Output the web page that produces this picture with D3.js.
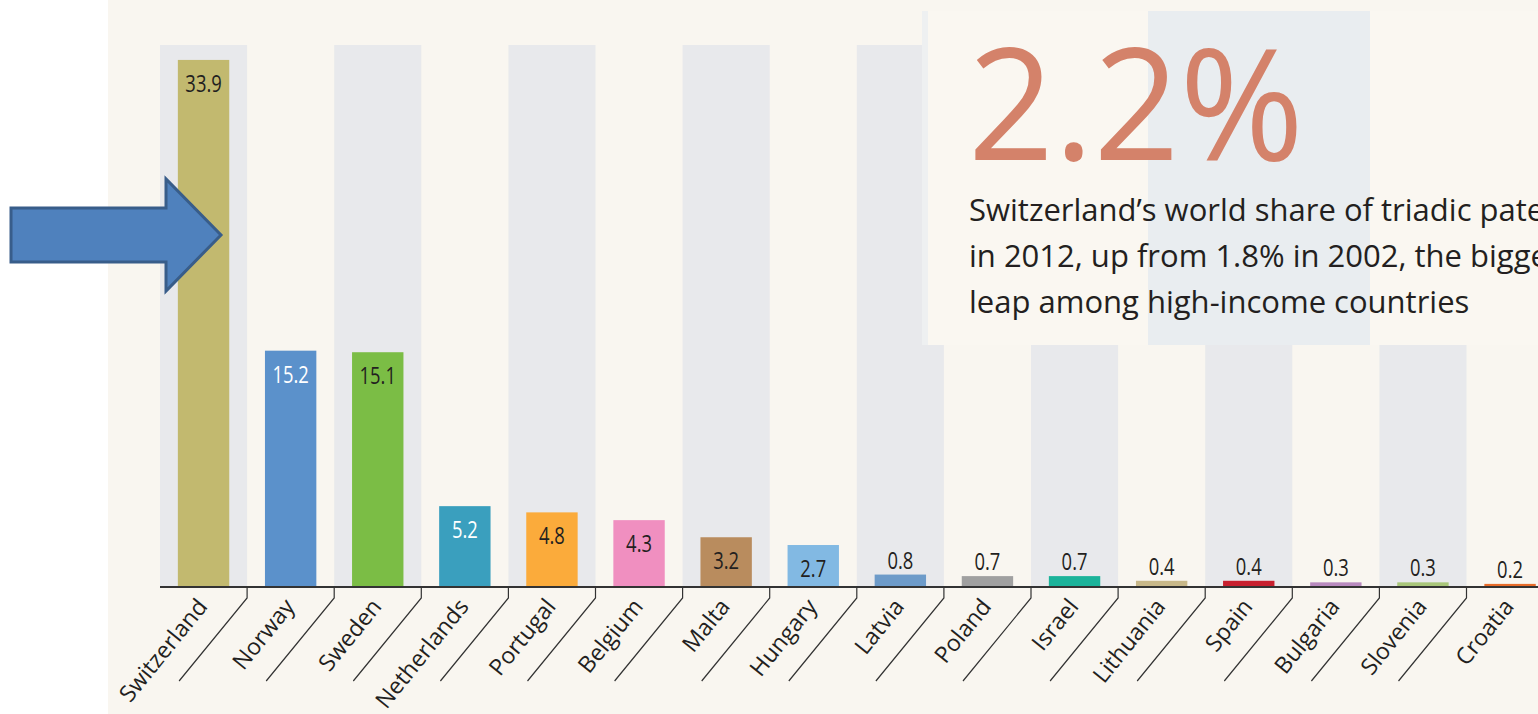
<!DOCTYPE html>
<html lang="en">
  <head>
    <meta charset="UTF-8" />
    <title>Triadic patents</title>
    <script src="https://cdn.jsdelivr.net/npm/d3@7"></script>
    <style>
      body { margin: 0; background: #fff; overflow: hidden; }
      svg { display: block; }
    </style>
  </head>
  <body>
    <script>
      const countries = ["Switzerland", "Norway", "Sweden", "Netherlands", "Portugal", "Belgium", "Malta", "Hungary",
        "Latvia", "Poland", "Israel", "Lithuania", "Spain", "Bulgaria", "Slovenia", "Croatia"];
      const values = [33.9, 15.2, 15.1, 5.2, 4.8, 4.3, 3.2, 2.7, 0.8, 0.7, 0.7, 0.4, 0.4, 0.3, 0.3, 0.2];
      const barColors = ["#c2b96f", "#5b91cb", "#7bbd45", "#3a9fbe", "#fbab3b", "#f08fc0", "#b98c5e", "#82b9e3",
        "#6d9bc9", "#a0a0a0", "#1bb39a", "#c8b889", "#c8202f", "#b98abf", "#a9c67a", "#e86c2a"];
      const whiteLabels = ["Norway", "Netherlands"];
      const headline = "2.2%";
      const noteLines = [
        "Switzerland\u2019s world share of triadic patents",
        "in 2012, up from 1.8% in 2002, the biggest",
        "leap among high-income countries"
      ];

      const width = 1538;
      const height = 714;
      const baseY = 587;
      const topY = 45;
      const scaleMax = 34.86;
      const step = 87.1;
      const left = 160;

      const svg = d3.select("body").append("svg")
        .attr("width", width)
        .attr("height", height);

      // cream page behind the chart
      svg.append("rect")
        .attr("x", 108).attr("y", 0)
        .attr("width", width - 108).attr("height", height)
        .attr("fill", "#f9f6f0");

      const x = d3.scaleBand()
        .domain(countries)
        .range([left, left + step * countries.length]);

      const xBar = d3.scaleBand()
        .domain(countries)
        .range(x.range())
        .paddingInner(0.41)
        .paddingOuter(0.205);

      const y = d3.scaleLinear().domain([0, scaleMax]).range([baseY, topY]);

      // alternate grey columns
      svg.append("g")
        .selectAll("rect")
        .data(countries.filter((d, i) => i % 2 === 0))
        .join("rect")
        .attr("x", (d) => x(d))
        .attr("y", y(scaleMax))
        .attr("width", x.bandwidth())
        .attr("height", y(0) - y(scaleMax))
        .attr("fill", "#e8e9ec");

      const data = countries.map((c, i) => ({ country: c, value: values[i], color: barColors[i] }));

      // bars
      svg.append("g")
        .selectAll("rect")
        .data(data)
        .join("rect")
        .attr("x", (d) => xBar(d.country))
        .attr("y", (d) => y(d.value))
        .attr("width", xBar.bandwidth())
        .attr("height", (d) => y(0) - y(d.value))
        .attr("fill", (d) => d.color);

      // value labels, inside tall bars, above short ones (squeezed to look condensed)
      svg.append("g")
        .selectAll("text")
        .data(data)
        .join("text")
        .attr("transform", (d) => {
          const ty = d.value > 2 ? y(d.value) + 32 : y(d.value) - 6;
          return `translate(${x(d.country) + x.bandwidth() / 2},${ty}) scale(0.8,1)`;
        })
        .attr("text-anchor", "middle")
        .attr("font-family", "'Open Sans', sans-serif")
        .attr("font-size", 23)
        .attr("fill", (d) => (whiteLabels.includes(d.country) ? "#ffffff" : "#231f20"))
        .text((d) => d.value.toFixed(1));

      // baseline
      svg.append("line")
        .attr("x1", left).attr("x2", width)
        .attr("y1", baseY).attr("y2", baseY)
        .attr("stroke", "#333")
        .attr("stroke-width", 2);

      // slanted separators between category labels
      svg.append("g")
        .selectAll("path")
        .data(countries.slice(1))
        .join("path")
        .attr("d", (d) => {
          const bx = x(d);
          return `M${bx},${baseY}L${bx},${baseY + 11}L${bx - 68},${baseY + 94}`;
        })
        .attr("fill", "none")
        .attr("stroke", "#333")
        .attr("stroke-width", 1.2);

      // category labels
      svg.append("g")
        .selectAll("text")
        .data(countries)
        .join("text")
        .attr("transform", (d) => `translate(${x(d) + x.bandwidth() / 2 + 5},${baseY + 20}) rotate(-51)`)
        .attr("text-anchor", "end")
        .attr("font-family", "'Open Sans', sans-serif")
        .attr("font-size", 23)
        .attr("fill", "#231f20")
        .text((d) => d);

      // annotation panel
      const note = svg.append("g");
      note.append("rect")
        .attr("x", 922).attr("y", 11)
        .attr("width", width - 922).attr("height", 334)
        .attr("fill", "#faf7f1");
      note.append("rect")
        .attr("x", 922).attr("y", 11)
        .attr("width", 6).attr("height", 334)
        .attr("fill", "#eef0f1");
      note.append("rect")
        .attr("x", 1148).attr("y", 11)
        .attr("width", 222).attr("height", 334)
        .attr("fill", "#e9edf0");

      note.append("text")
        .attr("x", 968).attr("y", 160)
        .attr("font-family", "'Open Sans', sans-serif")
        .attr("font-weight", 400)
        .attr("font-size", 156)
        .attr("textLength", 336)
        .attr("lengthAdjust", "spacingAndGlyphs")
        .attr("fill", "#d4826a")
        .text(headline);

      note.append("g")
        .selectAll("text")
        .data(noteLines)
        .join("text")
        .attr("x", 969)
        .attr("y", (d, i) => 221 + i * 46)
        .attr("font-family", "'Open Sans', sans-serif")
        .attr("font-size", 31)
        .attr("fill", "#231f20")
        .text((d) => d);

      // highlight arrow pointing at Switzerland
      svg.append("path")
        .attr("d", "M11,208L166,208L166,179L221,235L166,291L166,262L11,262Z")
        .attr("fill", "#4f81bd")
        .attr("stroke", "#385d8a")
        .attr("stroke-width", 3)
        .attr("stroke-linejoin", "miter");
    </script>
  </body>
</html>
